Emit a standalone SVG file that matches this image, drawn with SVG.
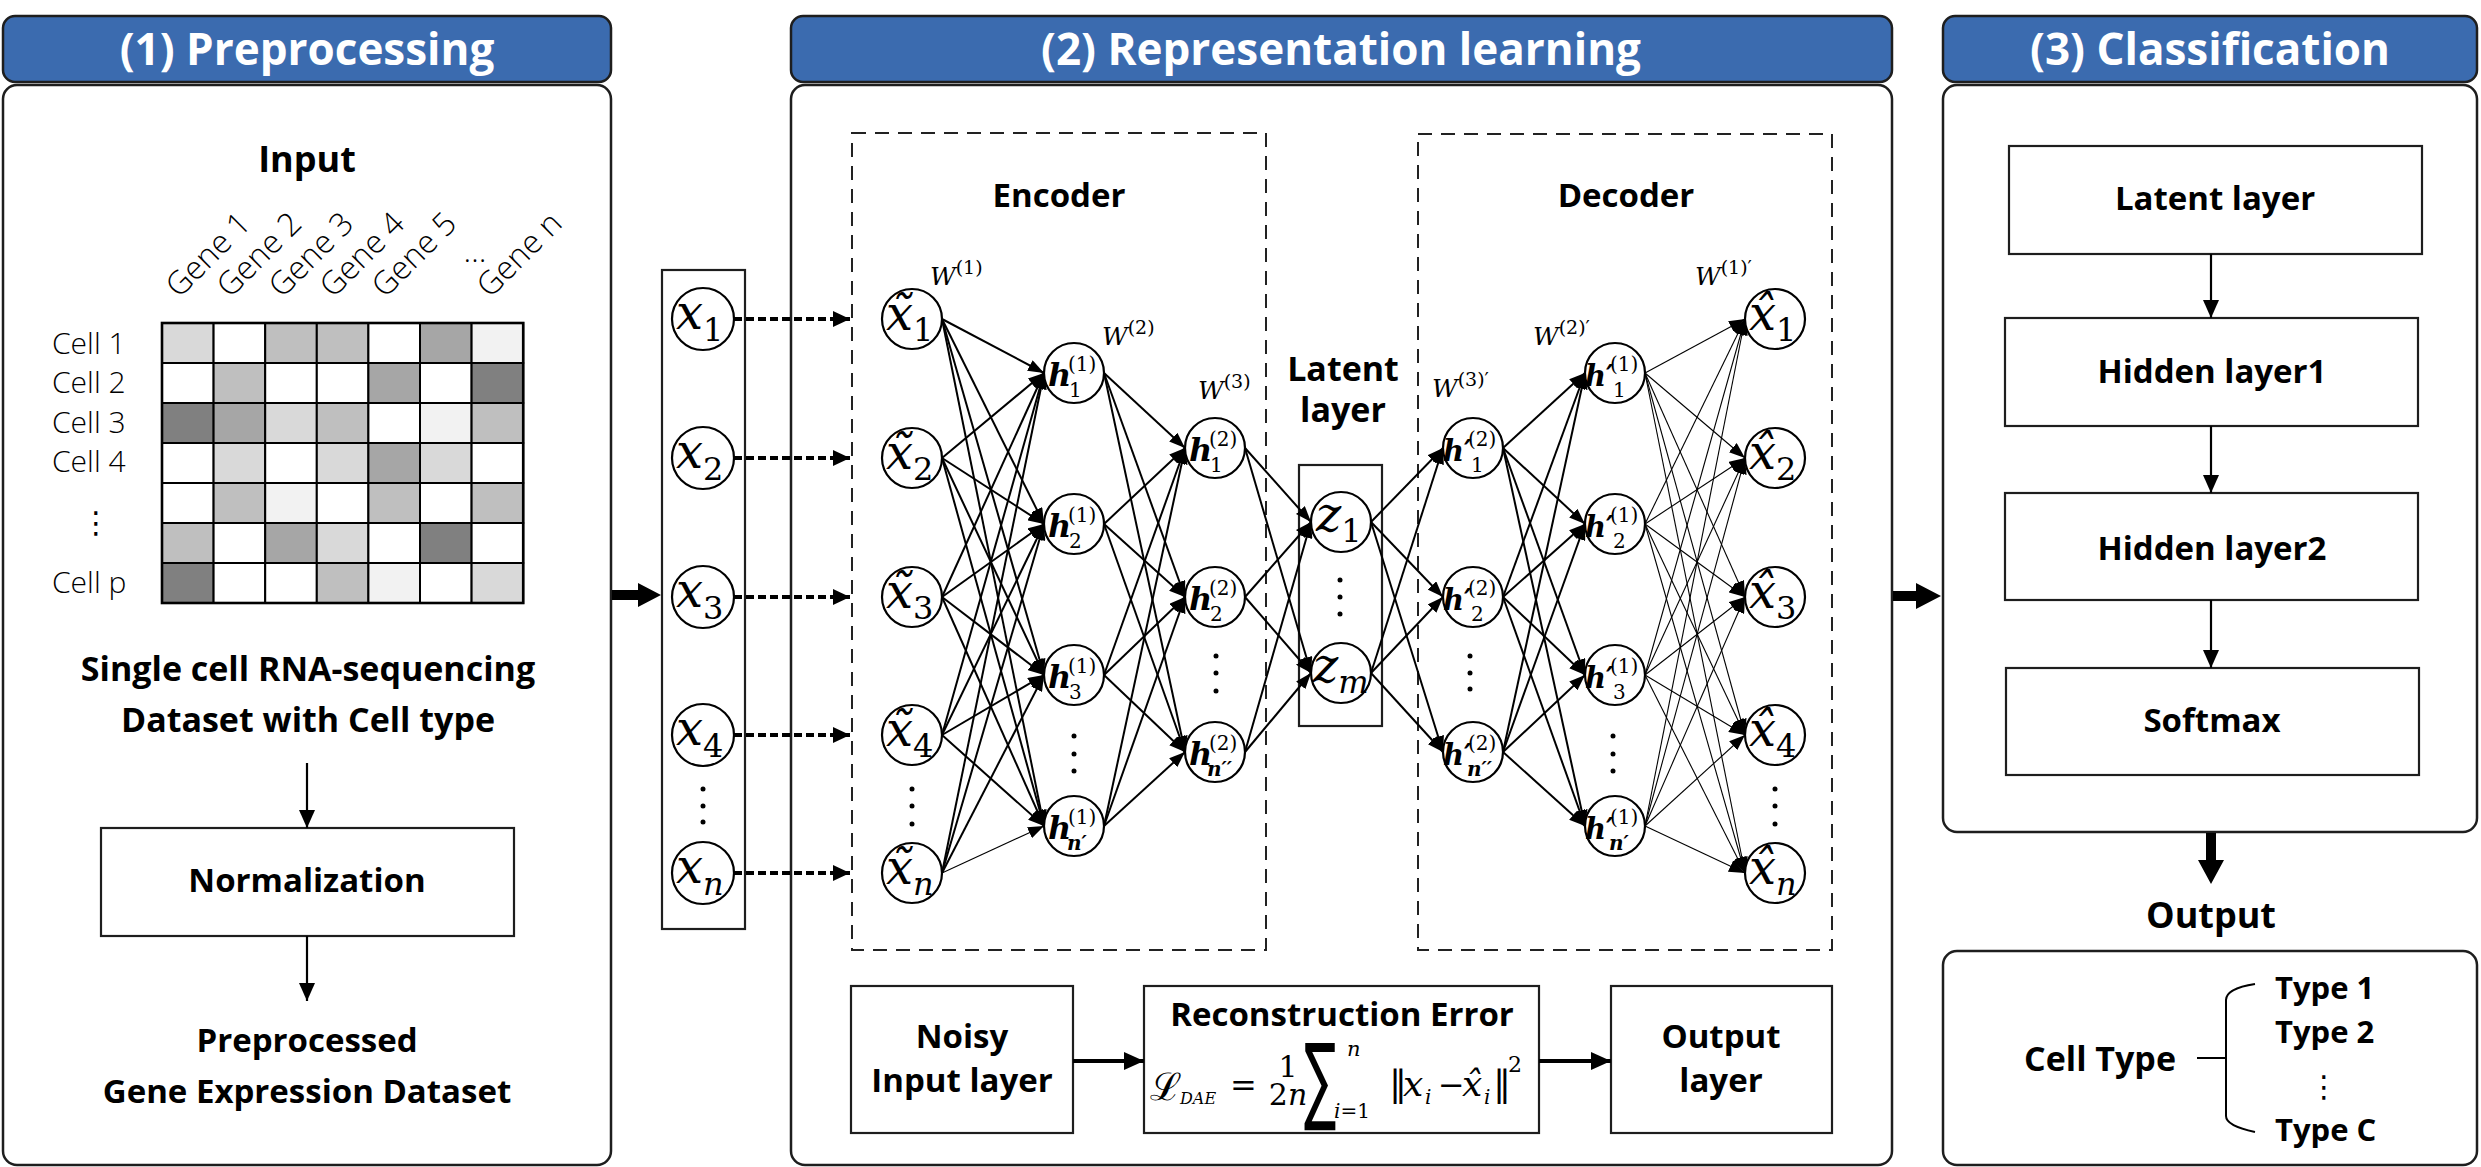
<svg xmlns="http://www.w3.org/2000/svg" width="2481" height="1167" viewBox="0 0 2481 1167">
<defs>
<style>
.hdr{fill:#3B6BAF;stroke:#1E1E1E;stroke-width:2.5}
.panel{fill:#fff;stroke:#1E1E1E;stroke-width:2.5}
.box{fill:#fff;stroke:#1E1E1E;stroke-width:2.2}
.dash{fill:none;stroke:#222;stroke-width:2;stroke-dasharray:14 9}
.t{font-family:'Open Sans','Liberation Sans',sans-serif;fill:#000}
.ht{font-family:'Open Sans','Liberation Sans',sans-serif;font-weight:700;font-size:44px;fill:#fff;text-anchor:middle}
.b{font-weight:700;font-size:33px;text-anchor:middle}
.r{font-weight:300;font-size:30px}
.gene{font-weight:300;font-size:32px}
.node{fill:#fff;stroke:#000;stroke-width:2.2}
.e{stroke:#000;stroke-width:2;marker-end:url(#ah)}
.et{stroke:#000;stroke-width:1.1;marker-end:url(#ah)}
.arr{stroke:#000;stroke-width:2.2;marker-end:url(#sh)}
.arr4{stroke:#000;stroke-width:4;marker-end:url(#sh4)}
.dot{stroke:#000;stroke-width:4;stroke-dasharray:8 4;marker-end:url(#dh)}
.mx{font-family:'DejaVu Serif',serif;font-style:italic;font-size:48px;fill:#000}
.ms{font-family:'DejaVu Serif',serif;font-style:normal;font-size:32px}
.msi{font-family:'DejaVu Serif',serif;font-style:italic;font-size:32px}
.mh{font-family:'DejaVu Serif',serif;font-style:italic;font-weight:700;font-size:32px;fill:#000}
.mhp{font-family:'DejaVu Serif',serif;font-style:italic;font-weight:700;font-size:29px;fill:#000}
.sup{font-family:'DejaVu Serif',serif;font-style:normal;font-weight:400;font-size:20px}
.subi{font-family:'DejaVu Serif',serif;font-style:italic;font-weight:700;font-size:20px}
.mw{font-family:'DejaVu Serif',serif;font-style:italic;font-size:25px;fill:#000}
.mws{font-family:'DejaVu Serif',serif;font-style:normal;font-size:19px}
.dt{fill:#000}
.fm{font-family:'DejaVu Serif',serif;fill:#000}
.sum{font-family:'DejaVu Sans',sans-serif;fill:#000}
.it{font-style:italic}
.vd{font-family:'DejaVu Sans',sans-serif;font-size:30px;text-anchor:middle;fill:#000}
</style>
<marker id="ah" markerUnits="userSpaceOnUse" viewBox="0 0 16 12" markerWidth="16" markerHeight="12" refX="16" refY="6" orient="auto"><path d="M0,0 L16,6 L0,12 z" fill="#000"/></marker>
<marker id="sh" markerUnits="userSpaceOnUse" viewBox="0 0 18 16" markerWidth="18" markerHeight="16" refX="18" refY="8" orient="auto"><path d="M0,0 L18,8 L0,16 z" fill="#000"/></marker>
<marker id="sh4" markerUnits="userSpaceOnUse" viewBox="0 0 20 18" markerWidth="20" markerHeight="18" refX="20" refY="9" orient="auto"><path d="M0,0 L20,9 L0,18 z" fill="#000"/></marker>
<marker id="dh" markerUnits="userSpaceOnUse" viewBox="0 0 17 16" markerWidth="17" markerHeight="16" refX="17" refY="8" orient="auto"><path d="M0,0 L17,8 L0,16 z" fill="#000"/></marker>
</defs>
<rect width="2481" height="1167" fill="#fff"/>

<!-- Panel 1 -->
<g id="panel1">
<rect class="hdr" x="3" y="16" width="608" height="66" rx="12"/>
<text class="ht" x="307" y="65">(1) Preprocessing</text>
<rect class="panel" x="3" y="85" width="608" height="1080" rx="14"/>
</g>
<g id="input-matrix">
<text class="t b" x="307" y="172" style="font-size:36px">Input</text>
<text class="t gene" x="179" y="299" transform="rotate(-45 179 299)">Gene 1</text>
<text class="t gene" x="230" y="299" transform="rotate(-45 230 299)">Gene 2</text>
<text class="t gene" x="282" y="299" transform="rotate(-45 282 299)">Gene 3</text>
<text class="t gene" x="333" y="299" transform="rotate(-45 333 299)">Gene 4</text>
<text class="t gene" x="385" y="299" transform="rotate(-45 385 299)">Gene 5</text>
<text class="t gene" x="475" y="262" text-anchor="middle">…</text>
<text class="t gene" x="490" y="299" transform="rotate(-45 490 299)">Gene n</text>
<text class="t r" x="52" y="354">Cell 1</text>
<text class="t r" x="52" y="393">Cell 2</text>
<text class="t r" x="52" y="433">Cell 3</text>
<text class="t r" x="52" y="472">Cell 4</text>
<text class="vd" x="96" y="533">⋮</text>
<text class="t r" x="52" y="593">Cell p</text>
<g stroke="#000" stroke-width="2">
<rect x="162" y="323" width="51.6" height="40" fill="#D9D9D9"/><rect x="213.6" y="323" width="51.6" height="40" fill="#FFFFFF"/><rect x="265.2" y="323" width="51.6" height="40" fill="#BFBFBF"/><rect x="316.8" y="323" width="51.6" height="40" fill="#BFBFBF"/><rect x="368.4" y="323" width="51.6" height="40" fill="#FFFFFF"/><rect x="420" y="323" width="51.6" height="40" fill="#A6A6A6"/><rect x="471.6" y="323" width="51.6" height="40" fill="#F2F2F2"/>
<rect x="162" y="363" width="51.6" height="40" fill="#FFFFFF"/><rect x="213.6" y="363" width="51.6" height="40" fill="#BFBFBF"/><rect x="265.2" y="363" width="51.6" height="40" fill="#FFFFFF"/><rect x="316.8" y="363" width="51.6" height="40" fill="#FFFFFF"/><rect x="368.4" y="363" width="51.6" height="40" fill="#A6A6A6"/><rect x="420" y="363" width="51.6" height="40" fill="#FFFFFF"/><rect x="471.6" y="363" width="51.6" height="40" fill="#808080"/>
<rect x="162" y="403" width="51.6" height="40" fill="#808080"/><rect x="213.6" y="403" width="51.6" height="40" fill="#A6A6A6"/><rect x="265.2" y="403" width="51.6" height="40" fill="#D9D9D9"/><rect x="316.8" y="403" width="51.6" height="40" fill="#BFBFBF"/><rect x="368.4" y="403" width="51.6" height="40" fill="#FFFFFF"/><rect x="420" y="403" width="51.6" height="40" fill="#F2F2F2"/><rect x="471.6" y="403" width="51.6" height="40" fill="#BFBFBF"/>
<rect x="162" y="443" width="51.6" height="40" fill="#FFFFFF"/><rect x="213.6" y="443" width="51.6" height="40" fill="#D9D9D9"/><rect x="265.2" y="443" width="51.6" height="40" fill="#FFFFFF"/><rect x="316.8" y="443" width="51.6" height="40" fill="#D9D9D9"/><rect x="368.4" y="443" width="51.6" height="40" fill="#A6A6A6"/><rect x="420" y="443" width="51.6" height="40" fill="#D9D9D9"/><rect x="471.6" y="443" width="51.6" height="40" fill="#FFFFFF"/>
<rect x="162" y="483" width="51.6" height="40" fill="#FFFFFF"/><rect x="213.6" y="483" width="51.6" height="40" fill="#BFBFBF"/><rect x="265.2" y="483" width="51.6" height="40" fill="#F2F2F2"/><rect x="316.8" y="483" width="51.6" height="40" fill="#FFFFFF"/><rect x="368.4" y="483" width="51.6" height="40" fill="#BFBFBF"/><rect x="420" y="483" width="51.6" height="40" fill="#FFFFFF"/><rect x="471.6" y="483" width="51.6" height="40" fill="#BFBFBF"/>
<rect x="162" y="523" width="51.6" height="40" fill="#BFBFBF"/><rect x="213.6" y="523" width="51.6" height="40" fill="#FFFFFF"/><rect x="265.2" y="523" width="51.6" height="40" fill="#A6A6A6"/><rect x="316.8" y="523" width="51.6" height="40" fill="#D9D9D9"/><rect x="368.4" y="523" width="51.6" height="40" fill="#FFFFFF"/><rect x="420" y="523" width="51.6" height="40" fill="#808080"/><rect x="471.6" y="523" width="51.6" height="40" fill="#FFFFFF"/>
<rect x="162" y="563" width="51.6" height="40" fill="#808080"/><rect x="213.6" y="563" width="51.6" height="40" fill="#FFFFFF"/><rect x="265.2" y="563" width="51.6" height="40" fill="#FFFFFF"/><rect x="316.8" y="563" width="51.6" height="40" fill="#BFBFBF"/><rect x="368.4" y="563" width="51.6" height="40" fill="#F2F2F2"/><rect x="420" y="563" width="51.6" height="40" fill="#FFFFFF"/><rect x="471.6" y="563" width="51.6" height="40" fill="#D9D9D9"/>
<rect x="162" y="323" width="361.2" height="280" fill="none" stroke-width="2.6"/>
</g>
<text class="t b" x="308" y="681" style="font-size:34px">Single cell RNA-sequencing</text>
<text class="t b" x="308" y="732" style="font-size:34px">Dataset with Cell type</text>
</g>
<g id="normalization">
<rect class="box" x="101" y="828" width="413" height="108"/>
<text class="t b" x="307" y="892">Normalization</text>
</g>
<g id="preprocessed">
<text class="t b" x="307" y="1052">Preprocessed</text>
<text class="t b" x="307" y="1103">Gene Expression Dataset</text>
</g>

<!-- Panel 2 -->
<g id="panel2">
<rect class="hdr" x="791" y="16" width="1101" height="66" rx="12"/>
<text class="ht" x="1341" y="65">(2) Representation learning</text>
<rect class="panel" x="791" y="85" width="1101" height="1080" rx="14"/>
</g>
<g id="input-vector">
<rect class="box" x="662" y="270" width="83" height="659"/>
</g>
<g id="encoder">
<rect class="dash" x="852" y="133" width="414" height="817"/>
<text class="t b" x="1059" y="207">Encoder</text>
</g>
<g id="decoder">
<rect class="dash" x="1418" y="134" width="414" height="816"/>
<text class="t b" x="1626" y="207">Decoder</text>
</g>
<g id="latent">
<text class="t b" x="1343" y="381" style="font-size:34px">Latent</text>
<text class="t b" x="1343" y="422" style="font-size:34px">layer</text>
<rect class="box" x="1299" y="465" width="83" height="261" stroke-width="2"/>
</g>

<g id="weights">
<text class="mw" x="930" y="285">W<tspan class="mws" dy="-11">(1)</tspan></text>
<text class="mw" x="1102" y="345">W<tspan class="mws" dy="-11">(2)</tspan></text>
<text class="mw" x="1198" y="399">W<tspan class="mws" dy="-11">(3)</tspan></text>
<text class="mw" x="1432" y="397">W<tspan class="mws" dy="-11">(3)′</tspan></text>
<text class="mw" x="1533" y="345">W<tspan class="mws" dy="-11">(2)′</tspan></text>
<text class="mw" x="1695" y="285">W<tspan class="mws" dy="-11">(1)′</tspan></text>
</g>

<!-- input x nodes -->
<g id="x1"><circle class="node" cx="703" cy="319" r="31"/><text class="mx" x="676" y="329">x<tspan class="ms" dy="12">1</tspan></text></g>
<g id="x2"><circle class="node" cx="703" cy="458" r="31"/><text class="mx" x="676" y="468">x<tspan class="ms" dy="12">2</tspan></text></g>
<g id="x3"><circle class="node" cx="703" cy="597" r="31"/><text class="mx" x="676" y="607">x<tspan class="ms" dy="12">3</tspan></text></g>
<g id="x4"><circle class="node" cx="703" cy="735" r="31"/><text class="mx" x="676" y="745">x<tspan class="ms" dy="12">4</tspan></text></g>
<g id="xn"><circle class="node" cx="703" cy="873" r="31"/><text class="mx" x="676" y="883">x<tspan class="msi" dy="12">n</tspan></text></g>
<g id="x-dots" class="dt"><circle cx="703" cy="789" r="2.5"/><circle cx="703" cy="806" r="2.5"/><circle cx="703" cy="822" r="2.5"/></g>

<!-- noisy input nodes -->
<g id="xt1"><circle class="node" cx="912" cy="319" r="30"/><text class="mx" x="886" y="330">x̃<tspan class="ms" dy="11">1</tspan></text></g>
<g id="xt2"><circle class="node" cx="912" cy="458" r="30"/><text class="mx" x="886" y="469">x̃<tspan class="ms" dy="11">2</tspan></text></g>
<g id="xt3"><circle class="node" cx="912" cy="597" r="30"/><text class="mx" x="886" y="608">x̃<tspan class="ms" dy="11">3</tspan></text></g>
<g id="xt4"><circle class="node" cx="912" cy="735" r="30"/><text class="mx" x="886" y="746">x̃<tspan class="ms" dy="11">4</tspan></text></g>
<g id="xtn"><circle class="node" cx="912" cy="873" r="30"/><text class="mx" x="886" y="884">x̃<tspan class="msi" dy="11">n</tspan></text></g>
<g id="xt-dots" class="dt"><circle cx="912" cy="789" r="2.5"/><circle cx="912" cy="806" r="2.5"/><circle cx="912" cy="824" r="2.5"/></g>

<!-- hidden 1 -->
<g id="h1_1"><circle class="node" cx="1074" cy="373" r="30"/><text class="mh" x="1048" y="386">h<tspan class="sup" x="1068" y="371">(1)</tspan><tspan class="sup" x="1069" y="397">1</tspan></text></g>
<g id="h1_2"><circle class="node" cx="1074" cy="524" r="30"/><text class="mh" x="1048" y="537">h<tspan class="sup" x="1068" y="522">(1)</tspan><tspan class="sup" x="1069" y="548">2</tspan></text></g>
<g id="h1_3"><circle class="node" cx="1074" cy="675" r="30"/><text class="mh" x="1048" y="688">h<tspan class="sup" x="1068" y="673">(1)</tspan><tspan class="sup" x="1069" y="699">3</tspan></text></g>
<g id="h1_n"><circle class="node" cx="1074" cy="826" r="30"/><text class="mh" x="1048" y="839">h<tspan class="sup" x="1068" y="824">(1)</tspan><tspan class="subi" x="1067" y="850">n′</tspan></text></g>
<g id="h1-dots" class="dt"><circle cx="1074" cy="736" r="2.5"/><circle cx="1074" cy="754" r="2.5"/><circle cx="1074" cy="771" r="2.5"/></g>

<!-- hidden 2 -->
<g id="h2_1"><circle class="node" cx="1215" cy="448" r="30"/><text class="mh" x="1189" y="461">h<tspan class="sup" x="1209" y="446">(2)</tspan><tspan class="sup" x="1210" y="472">1</tspan></text></g>
<g id="h2_2"><circle class="node" cx="1215" cy="597" r="30"/><text class="mh" x="1189" y="610">h<tspan class="sup" x="1209" y="595">(2)</tspan><tspan class="sup" x="1210" y="621">2</tspan></text></g>
<g id="h2_n"><circle class="node" cx="1215" cy="752" r="30"/><text class="mh" x="1189" y="765">h<tspan class="sup" x="1209" y="750">(2)</tspan><tspan class="subi" x="1207" y="776">n′′</tspan></text></g>
<g id="h2-dots" class="dt"><circle cx="1216" cy="656" r="2.5"/><circle cx="1216" cy="673" r="2.5"/><circle cx="1216" cy="691" r="2.5"/></g>

<!-- latent z -->
<g id="z1"><circle class="node" cx="1341" cy="522" r="30"/><text class="mx" x="1316" y="531">z<tspan class="ms" dy="11">1</tspan></text></g>
<g id="zm"><circle class="node" cx="1341" cy="673" r="30"/><text class="mx" x="1313" y="682">z<tspan class="msi" dy="11">m</tspan></text></g>
<g id="z-dots" class="dt"><circle cx="1340" cy="580" r="2.5"/><circle cx="1340" cy="597" r="2.5"/><circle cx="1340" cy="614" r="2.5"/></g>

<!-- decoder hidden 2' -->
<g id="hp2_1"><circle class="node" cx="1473" cy="448" r="30"/><text class="mhp" x="1443" y="461">h′<tspan class="sup" x="1468" y="446">(2)</tspan><tspan class="sup" x="1471" y="472">1</tspan></text></g>
<g id="hp2_2"><circle class="node" cx="1473" cy="597" r="30"/><text class="mhp" x="1443" y="610">h′<tspan class="sup" x="1468" y="595">(2)</tspan><tspan class="sup" x="1471" y="621">2</tspan></text></g>
<g id="hp2_n"><circle class="node" cx="1473" cy="752" r="30"/><text class="mhp" x="1443" y="765">h′<tspan class="sup" x="1468" y="750">(2)</tspan><tspan class="subi" x="1467" y="776">n′′</tspan></text></g>
<g id="hp2-dots" class="dt"><circle cx="1470" cy="656" r="2.5"/><circle cx="1470" cy="673" r="2.5"/><circle cx="1470" cy="689" r="2.5"/></g>

<!-- decoder hidden 1' -->
<g id="hp1_1"><circle class="node" cx="1615" cy="373" r="30"/><text class="mhp" x="1585" y="386">h′<tspan class="sup" x="1610" y="371">(1)</tspan><tspan class="sup" x="1613" y="397">1</tspan></text></g>
<g id="hp1_2"><circle class="node" cx="1615" cy="524" r="30"/><text class="mhp" x="1585" y="537">h′<tspan class="sup" x="1610" y="522">(1)</tspan><tspan class="sup" x="1613" y="548">2</tspan></text></g>
<g id="hp1_3"><circle class="node" cx="1615" cy="675" r="30"/><text class="mhp" x="1585" y="688">h′<tspan class="sup" x="1610" y="673">(1)</tspan><tspan class="sup" x="1613" y="699">3</tspan></text></g>
<g id="hp1_n"><circle class="node" cx="1615" cy="826" r="30"/><text class="mhp" x="1585" y="839">h′<tspan class="sup" x="1610" y="824">(1)</tspan><tspan class="subi" x="1609" y="850">n′</tspan></text></g>
<g id="hp1-dots" class="dt"><circle cx="1613" cy="736" r="2.5"/><circle cx="1613" cy="754" r="2.5"/><circle cx="1613" cy="771" r="2.5"/></g>

<!-- reconstructed nodes -->
<g id="xh1"><circle class="node" cx="1775" cy="319" r="30"/><text class="mx" x="1749" y="330">x̂<tspan class="ms" dy="11">1</tspan></text></g>
<g id="xh2"><circle class="node" cx="1775" cy="458" r="30"/><text class="mx" x="1749" y="469">x̂<tspan class="ms" dy="11">2</tspan></text></g>
<g id="xh3"><circle class="node" cx="1775" cy="597" r="30"/><text class="mx" x="1749" y="608">x̂<tspan class="ms" dy="11">3</tspan></text></g>
<g id="xh4"><circle class="node" cx="1775" cy="735" r="30"/><text class="mx" x="1749" y="746">x̂<tspan class="ms" dy="11">4</tspan></text></g>
<g id="xhn"><circle class="node" cx="1775" cy="873" r="30"/><text class="mx" x="1749" y="884">x̂<tspan class="msi" dy="11">n</tspan></text></g>
<g id="xh-dots" class="dt"><circle cx="1775" cy="789" r="2.5"/><circle cx="1775" cy="806" r="2.5"/><circle cx="1775" cy="824" r="2.5"/></g>

<!-- bottom boxes -->
<g id="noisy-input">
<rect class="box" x="851" y="986" width="222" height="147"/>
<text class="t b" x="962" y="1048">Noisy</text>
<text class="t b" x="962" y="1092">Input layer</text>
</g>
<g id="reconstruction">
<rect class="box" x="1144" y="986" width="395" height="147"/>
<text class="t b" x="1342" y="1026">Reconstruction Error</text>
<text class="fm" x="1150" y="1100" font-size="38">ℒ<tspan class="it" x="1180" y="1104" font-size="16">DAE</tspan><tspan x="1230" y="1096" font-size="32">=</tspan></text>
<text class="fm" x="1288" y="1077" font-size="30" text-anchor="middle">1<tspan x="1288" y="1105">2<tspan class="it">n</tspan></tspan></text>
<text class="sum" transform="translate(1304,1112) scale(0.75,1.5)" font-size="64">∑</text>
<text class="fm" x="1347" y="1056" font-size="21"><tspan class="it">n</tspan><tspan x="1334" y="1118" font-size="20"><tspan class="it">i</tspan>=1</tspan></text>
<text class="fm" x="1389" y="1096" font-size="36">‖<tspan class="it" x="1403">x</tspan><tspan class="it" x="1425" y="1104" font-size="20">i</tspan><tspan x="1438" y="1096" font-size="32">−</tspan><tspan class="it" x="1462" font-size="36">x̂</tspan><tspan class="it" x="1484" y="1104" font-size="20">i</tspan><tspan x="1493" y="1096">‖</tspan><tspan x="1508" y="1072" font-size="22">2</tspan></text>
</g>
<g id="output-layer">
<rect class="box" x="1611" y="986" width="221" height="147"/>
<text class="t b" x="1721" y="1048">Output</text>
<text class="t b" x="1721" y="1092">layer</text>
</g>

<!-- Panel 3 -->
<g id="panel3">
<rect class="hdr" x="1943" y="16" width="534" height="66" rx="12"/>
<text class="ht" x="2210" y="65">(3) Classification</text>
<rect class="panel" x="1943" y="85" width="534" height="747" rx="14"/>
</g>
<g id="latent-layer"><rect class="box" x="2009" y="146" width="413" height="108"/><text class="t b" x="2215" y="210">Latent layer</text></g>
<g id="hidden1"><rect class="box" x="2005" y="318" width="413" height="108"/><text class="t b" x="2212" y="383">Hidden layer1</text></g>
<g id="hidden2"><rect class="box" x="2005" y="493" width="413" height="107"/><text class="t b" x="2212" y="560">Hidden layer2</text></g>
<g id="softmax"><rect class="box" x="2006" y="668" width="413" height="107"/><text class="t b" x="2212" y="732">Softmax</text></g>
<g id="output">
<text class="t b" x="2211" y="928" style="font-size:36px">Output</text>
<rect class="panel" x="1943" y="951" width="534" height="214" rx="14"/>
<text class="t" x="2024" y="1071" font-weight="700" font-size="34">Cell Type</text>
<path d="M2197,1058 L2226,1058 M2255,984 C2236,987 2226,992 2226,1000 L2226,1116 C2226,1123 2236,1128 2255,1132" fill="none" stroke="#000" stroke-width="2"/>
<text class="t" x="2275" y="999" font-weight="700" font-size="31">Type 1</text>
<text class="t" x="2275" y="1043" font-weight="700" font-size="31">Type 2</text>
<text class="vd" x="2324" y="1097" font-size="28">⋮</text>
<text class="t" x="2275" y="1141" font-weight="700" font-size="31">Type C</text>
</g>

<!-- connectors -->
<g id="connectors">
<line class="arr" x1="307" y1="763" x2="307" y2="828"/>
<line class="arr" x1="307" y1="936" x2="307" y2="1001"/>
<polygon points="612,590 638,590 638,583 661,595 638,607 638,600 612,600" fill="#000"/>
<polygon points="1893,591 1916,591 1916,583 1941,596 1916,609 1916,601 1893,601" fill="#000"/>
<polygon points="2206,833 2216,833 2216,860 2224,860 2211,884 2198,860 2206,860" fill="#000"/>
<line class="arr" x1="2211" y1="254" x2="2211" y2="318"/>
<line class="arr" x1="2211" y1="426" x2="2211" y2="493"/>
<line class="arr" x1="2211" y1="600" x2="2211" y2="668"/>
<line class="arr4" x1="1073" y1="1061" x2="1144" y2="1061"/>
<line class="arr4" x1="1539" y1="1061" x2="1611" y2="1061"/>
<line class="dot" x1="734" y1="319" x2="850" y2="319"/>
<line class="dot" x1="734" y1="458" x2="850" y2="458"/>
<line class="dot" x1="734" y1="597" x2="850" y2="597"/>
<line class="dot" x1="734" y1="735" x2="850" y2="735"/>
<line class="dot" x1="734" y1="873" x2="850" y2="873"/>
<!-- x~ -> h1 -->
<line class="e" x1="942" y1="319" x2="1044" y2="373"/><line class="e" x1="942" y1="319" x2="1044" y2="524"/><line class="e" x1="942" y1="319" x2="1044" y2="675"/><line class="e" x1="942" y1="319" x2="1044" y2="826"/>
<line class="e" x1="942" y1="458" x2="1044" y2="373"/><line class="e" x1="942" y1="458" x2="1044" y2="524"/><line class="e" x1="942" y1="458" x2="1044" y2="675"/><line class="e" x1="942" y1="458" x2="1044" y2="826"/>
<line class="e" x1="942" y1="597" x2="1044" y2="373"/><line class="e" x1="942" y1="597" x2="1044" y2="524"/><line class="e" x1="942" y1="597" x2="1044" y2="675"/><line class="e" x1="942" y1="597" x2="1044" y2="826"/>
<line class="e" x1="942" y1="735" x2="1044" y2="373"/><line class="e" x1="942" y1="735" x2="1044" y2="524"/><line class="e" x1="942" y1="735" x2="1044" y2="675"/><line class="e" x1="942" y1="735" x2="1044" y2="826"/>
<line class="e" x1="942" y1="873" x2="1044" y2="373"/><line class="e" x1="942" y1="873" x2="1044" y2="524"/><line class="e" x1="942" y1="873" x2="1044" y2="675"/><line class="et" x1="942" y1="873" x2="1044" y2="826"/>
<!-- h1 -> h2 -->
<line class="e" x1="1104" y1="373" x2="1185" y2="448"/><line class="e" x1="1104" y1="373" x2="1185" y2="597"/><line class="e" x1="1104" y1="373" x2="1185" y2="752"/>
<line class="e" x1="1104" y1="524" x2="1185" y2="448"/><line class="e" x1="1104" y1="524" x2="1185" y2="597"/><line class="e" x1="1104" y1="524" x2="1185" y2="752"/>
<line class="e" x1="1104" y1="675" x2="1185" y2="448"/><line class="e" x1="1104" y1="675" x2="1185" y2="597"/><line class="e" x1="1104" y1="675" x2="1185" y2="752"/>
<line class="e" x1="1104" y1="826" x2="1185" y2="448"/><line class="e" x1="1104" y1="826" x2="1185" y2="597"/><line class="e" x1="1104" y1="826" x2="1185" y2="752"/>
<!-- h2 -> z -->
<line class="e" x1="1245" y1="448" x2="1311" y2="522"/><line class="e" x1="1245" y1="448" x2="1311" y2="673"/>
<line class="e" x1="1245" y1="597" x2="1311" y2="522"/><line class="e" x1="1245" y1="597" x2="1311" y2="673"/>
<line class="e" x1="1245" y1="752" x2="1311" y2="522"/><line class="e" x1="1245" y1="752" x2="1311" y2="673"/>
<!-- z -> h'2 -->
<line class="e" x1="1371" y1="522" x2="1443" y2="448"/><line class="e" x1="1371" y1="522" x2="1443" y2="597"/><line class="e" x1="1371" y1="522" x2="1443" y2="752"/>
<line class="e" x1="1371" y1="673" x2="1443" y2="448"/><line class="e" x1="1371" y1="673" x2="1443" y2="597"/><line class="e" x1="1371" y1="673" x2="1443" y2="752"/>
<!-- h'2 -> h'1 -->
<line class="e" x1="1503" y1="448" x2="1585" y2="373"/><line class="e" x1="1503" y1="448" x2="1585" y2="524"/><line class="e" x1="1503" y1="448" x2="1585" y2="675"/><line class="e" x1="1503" y1="448" x2="1585" y2="826"/>
<line class="e" x1="1503" y1="597" x2="1585" y2="373"/><line class="e" x1="1503" y1="597" x2="1585" y2="524"/><line class="e" x1="1503" y1="597" x2="1585" y2="675"/><line class="e" x1="1503" y1="597" x2="1585" y2="826"/>
<line class="e" x1="1503" y1="752" x2="1585" y2="373"/><line class="e" x1="1503" y1="752" x2="1585" y2="524"/><line class="e" x1="1503" y1="752" x2="1585" y2="675"/><line class="e" x1="1503" y1="752" x2="1585" y2="826"/>
<!-- h'1 -> x^ -->
<line class="et" x1="1645" y1="373" x2="1745" y2="319"/><line class="et" x1="1645" y1="373" x2="1745" y2="458"/><line class="et" x1="1645" y1="373" x2="1745" y2="597"/><line class="et" x1="1645" y1="373" x2="1745" y2="735"/><line class="et" x1="1645" y1="373" x2="1745" y2="873"/>
<line class="et" x1="1645" y1="524" x2="1745" y2="319"/><line class="et" x1="1645" y1="524" x2="1745" y2="458"/><line class="et" x1="1645" y1="524" x2="1745" y2="597"/><line class="et" x1="1645" y1="524" x2="1745" y2="735"/><line class="et" x1="1645" y1="524" x2="1745" y2="873"/>
<line class="et" x1="1645" y1="675" x2="1745" y2="319"/><line class="et" x1="1645" y1="675" x2="1745" y2="458"/><line class="et" x1="1645" y1="675" x2="1745" y2="597"/><line class="et" x1="1645" y1="675" x2="1745" y2="735"/><line class="et" x1="1645" y1="675" x2="1745" y2="873"/>
<line class="et" x1="1645" y1="826" x2="1745" y2="319"/><line class="et" x1="1645" y1="826" x2="1745" y2="458"/><line class="et" x1="1645" y1="826" x2="1745" y2="597"/><line class="et" x1="1645" y1="826" x2="1745" y2="735"/><line class="et" x1="1645" y1="826" x2="1745" y2="873"/>
</g>
</svg>
